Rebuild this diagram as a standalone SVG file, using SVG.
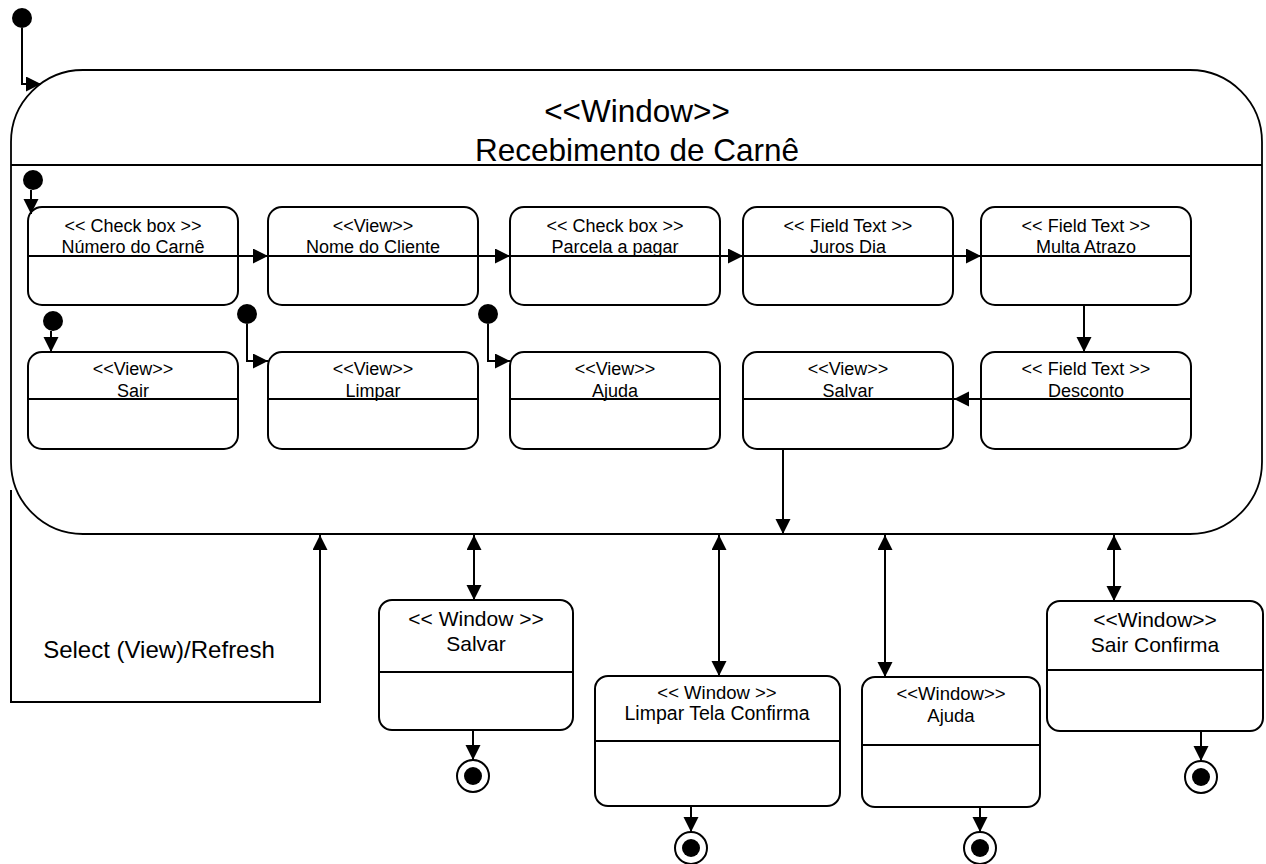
<svg xmlns="http://www.w3.org/2000/svg" width="1266" height="864" viewBox="0 0 1266 864">
<defs>
<style>
text{font-family:"Liberation Sans",Arial,sans-serif;fill:#000;text-anchor:middle}
.st{fill:#fff;stroke:#000;stroke-width:2}
.big{fill:#fff;stroke:#000;stroke-width:1.8}
.dv{stroke:#000;stroke-width:2}
.c{fill:none;stroke:#000;stroke-width:2}
.f18{font-size:18px}
.f185{font-size:18.5px}
.f21{font-size:21px}
.dot{fill:#000}
</style>
<marker id="ah" markerUnits="userSpaceOnUse" markerWidth="16" markerHeight="16" refX="15" refY="7.5" orient="auto-start-reverse">
<path d="M0,0 L15,7.5 L0,15 z" fill="#000"/>
</marker>
</defs>
<rect width="1266" height="864" fill="#fff"/>

<g id="init-top"><circle class="dot" cx="22" cy="18" r="10"/></g>

<g id="window-main">
<rect class="big" x="11" y="70" width="1251" height="464" rx="72" ry="72"/>
<line class="dv" x1="11" y1="165" x2="1262" y2="165"/>
<text x="637" y="122" style="font-size:31.5px">&lt;&lt;Window&gt;&gt;</text>
<text x="637" y="161" style="font-size:31.5px">Recebimento de Carnê</text>
</g>

<g id="init-inner"><circle class="dot" cx="33" cy="180" r="10"/></g>
<g id="init-sair"><circle class="dot" cx="53" cy="321" r="10"/></g>
<g id="init-limpar"><circle class="dot" cx="247" cy="314" r="10"/></g>
<g id="init-ajuda"><circle class="dot" cx="488" cy="314" r="10"/></g>

<g id="numero">
<rect class="st" x="28" y="207" width="210" height="98" rx="14"/>
<line class="dv" x1="28" y1="256" x2="238" y2="256"/>
<text class="f18" x="133" y="232">&lt;&lt; Check box &gt;&gt;</text>
<text class="f18" x="133" y="253">Número do Carnê</text>
</g>
<g id="nome">
<rect class="st" x="268" y="207" width="210" height="98" rx="14"/>
<line class="dv" x1="268" y1="256" x2="478" y2="256"/>
<text class="f18" x="373" y="232">&lt;&lt;View&gt;&gt;</text>
<text class="f18" x="373" y="253">Nome do Cliente</text>
</g>
<g id="parcela">
<rect class="st" x="510" y="207" width="210" height="98" rx="14"/>
<line class="dv" x1="510" y1="256" x2="720" y2="256"/>
<text class="f18" x="615" y="232">&lt;&lt; Check box &gt;&gt;</text>
<text class="f18" x="615" y="253">Parcela a pagar</text>
</g>
<g id="juros">
<rect class="st" x="743" y="207" width="210" height="98" rx="14"/>
<line class="dv" x1="743" y1="256" x2="953" y2="256"/>
<text class="f18" x="848" y="232">&lt;&lt; Field Text &gt;&gt;</text>
<text class="f18" x="848" y="253">Juros Dia</text>
</g>
<g id="multa">
<rect class="st" x="981" y="207" width="210" height="98" rx="14"/>
<line class="dv" x1="981" y1="256" x2="1191" y2="256"/>
<text class="f18" x="1086" y="232">&lt;&lt; Field Text &gt;&gt;</text>
<text class="f18" x="1086" y="253">Multa Atrazo</text>
</g>

<g id="sair">
<rect class="st" x="28" y="352" width="210" height="97" rx="14"/>
<line class="dv" x1="28" y1="399" x2="238" y2="399"/>
<text class="f18" x="133" y="375">&lt;&lt;View&gt;&gt;</text>
<text class="f18" x="133" y="397">Sair</text>
</g>
<g id="limpar">
<rect class="st" x="268" y="352" width="210" height="97" rx="14"/>
<line class="dv" x1="268" y1="399" x2="478" y2="399"/>
<text class="f18" x="373" y="375">&lt;&lt;View&gt;&gt;</text>
<text class="f18" x="373" y="397">Limpar</text>
</g>
<g id="ajuda">
<rect class="st" x="510" y="352" width="210" height="97" rx="14"/>
<line class="dv" x1="510" y1="399" x2="720" y2="399"/>
<text class="f18" x="615" y="375">&lt;&lt;View&gt;&gt;</text>
<text class="f18" x="615" y="397">Ajuda</text>
</g>
<g id="salvar">
<rect class="st" x="743" y="352" width="210" height="97" rx="14"/>
<line class="dv" x1="743" y1="399" x2="953" y2="399"/>
<text class="f18" x="848" y="375">&lt;&lt;View&gt;&gt;</text>
<text class="f18" x="848" y="397">Salvar</text>
</g>
<g id="desconto">
<rect class="st" x="981" y="352" width="210" height="97" rx="14"/>
<line class="dv" x1="981" y1="399" x2="1191" y2="399"/>
<text class="f18" x="1086" y="375">&lt;&lt; Field Text &gt;&gt;</text>
<text class="f18" x="1086" y="397">Desconto</text>
</g>

<g id="win-salvar">
<rect class="st" x="379" y="600" width="194" height="130" rx="13"/>
<line class="dv" x1="379" y1="672" x2="573" y2="672"/>
<text class="f21" x="476" y="626">&lt;&lt; Window &gt;&gt;</text>
<text class="f21" x="476" y="651">Salvar</text>
</g>
<g id="win-limpar">
<rect class="st" x="595" y="676" width="245" height="130" rx="13"/>
<line class="dv" x1="595" y1="741" x2="840" y2="741"/>
<text class="f185" x="717" y="699">&lt;&lt; Window &gt;&gt;</text>
<text class="f185" x="717" y="720" style="font-size:19.5px">Limpar Tela Confirma</text>
</g>
<g id="win-ajuda">
<rect class="st" x="862" y="677" width="178" height="130" rx="13"/>
<line class="dv" x1="862" y1="745" x2="1040" y2="745"/>
<text class="f185" x="951" y="700">&lt;&lt;Window&gt;&gt;</text>
<text class="f185" x="951" y="722">Ajuda</text>
</g>
<g id="win-sair">
<rect class="st" x="1047" y="601" width="216" height="130" rx="13"/>
<line class="dv" x1="1047" y1="670" x2="1263" y2="670"/>
<text class="f21" x="1155" y="627">&lt;&lt;Window&gt;&gt;</text>
<text class="f21" x="1155" y="652">Sair Confirma</text>
</g>

<g id="final-salvar"><circle cx="473" cy="776" r="16" fill="#fff" stroke="#000" stroke-width="2"/><circle class="dot" cx="473" cy="776" r="9"/></g>
<g id="final-limpar"><circle cx="691" cy="848" r="16" fill="#fff" stroke="#000" stroke-width="2"/><circle class="dot" cx="691" cy="848" r="9"/></g>
<g id="final-ajuda"><circle cx="980" cy="848" r="16" fill="#fff" stroke="#000" stroke-width="2"/><circle class="dot" cx="980" cy="848" r="9"/></g>
<g id="final-sair"><circle cx="1201" cy="777" r="16" fill="#fff" stroke="#000" stroke-width="2"/><circle class="dot" cx="1201" cy="777" r="9"/></g>

<g id="loop-label"><text x="159" y="658" style="font-size:24px">Select (View)/Refresh</text></g>

<g id="connectors">
<path class="c" d="M22,28 V84 H41" marker-end="url(#ah)"/>
<path class="c" d="M31,190 V214" marker-end="url(#ah)"/>
<path class="c" d="M51,331 V352" marker-end="url(#ah)"/>
<path class="c" d="M247,324 V361 H268" marker-end="url(#ah)"/>
<path class="c" d="M488,324 V361 H510" marker-end="url(#ah)"/>
<path class="c" d="M238,256 H268" marker-end="url(#ah)"/>
<path class="c" d="M478,256 H510" marker-end="url(#ah)"/>
<path class="c" d="M720,256 H743" marker-end="url(#ah)"/>
<path class="c" d="M953,256 H981" marker-end="url(#ah)"/>
<path class="c" d="M1084,305 V352" marker-end="url(#ah)"/>
<path class="c" d="M981,399 H954" marker-end="url(#ah)"/>
<path class="c" d="M783,449 V534" marker-end="url(#ah)"/>
<path class="c" d="M11,490 V702 H320 V535" marker-end="url(#ah)"/>
<path class="c" d="M474,535 V600" marker-start="url(#ah)" marker-end="url(#ah)"/>
<path class="c" d="M719,535 V676" marker-start="url(#ah)" marker-end="url(#ah)"/>
<path class="c" d="M885,535 V677" marker-start="url(#ah)" marker-end="url(#ah)"/>
<path class="c" d="M1114,535 V601" marker-start="url(#ah)" marker-end="url(#ah)"/>
<path class="c" d="M473,730 V760" marker-end="url(#ah)"/>
<path class="c" d="M691,806 V832" marker-end="url(#ah)"/>
<path class="c" d="M980,807 V832" marker-end="url(#ah)"/>
<path class="c" d="M1201,731 V761" marker-end="url(#ah)"/>
</g>
</svg>
